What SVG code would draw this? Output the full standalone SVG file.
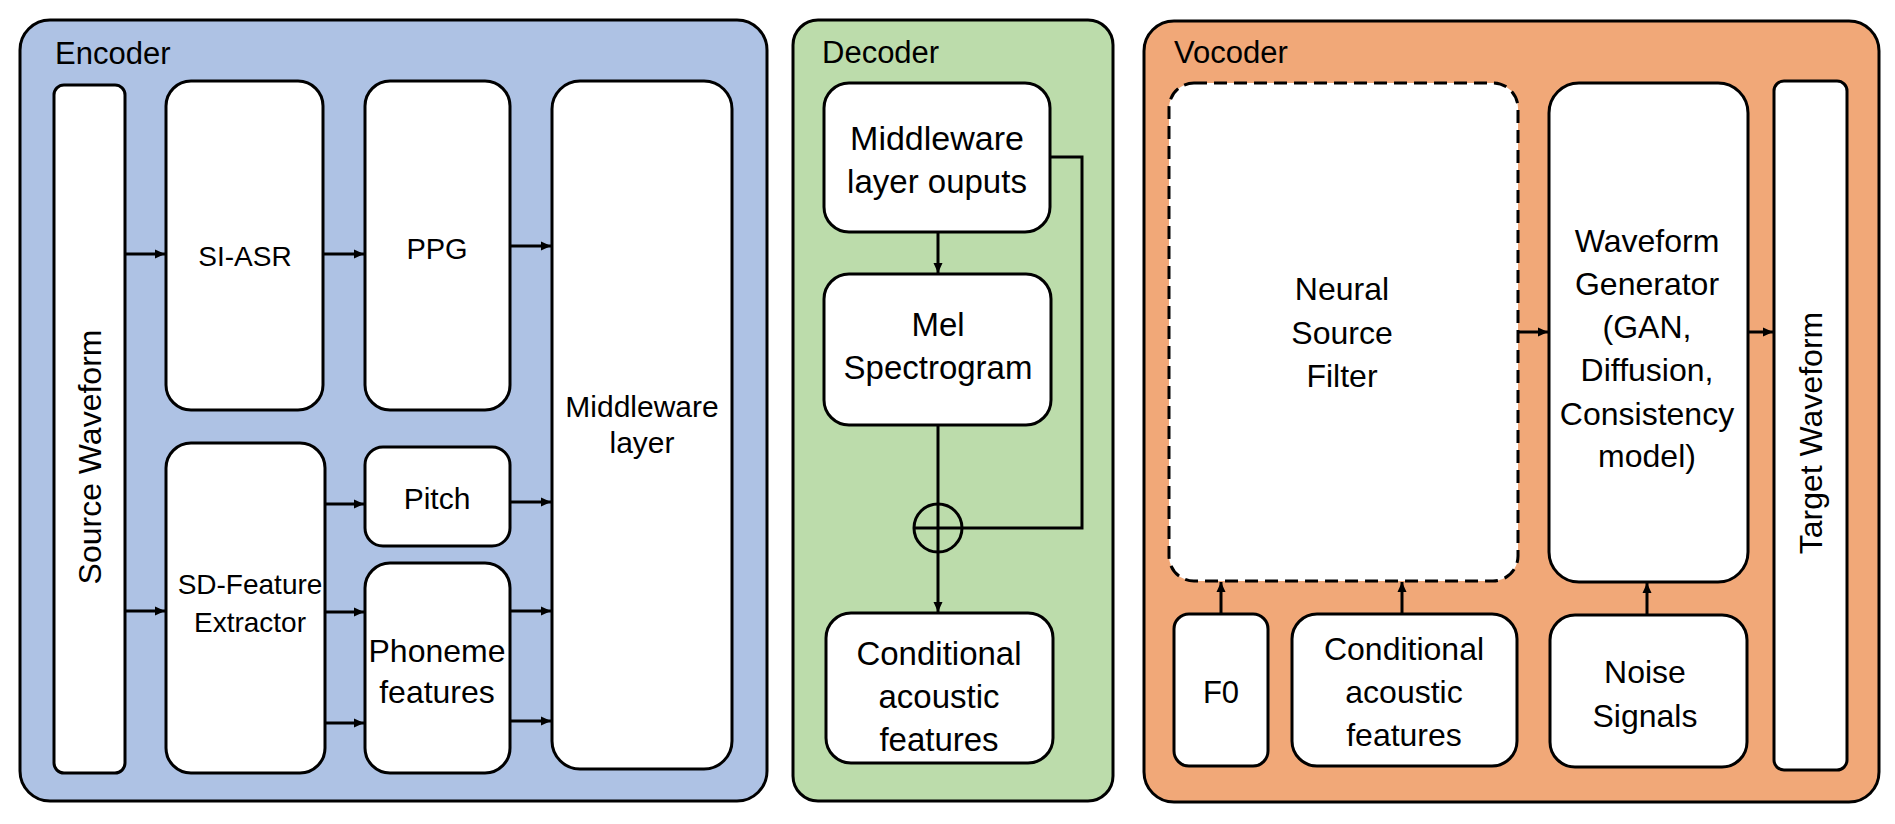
<svg xmlns="http://www.w3.org/2000/svg" width="1895" height="824" viewBox="0 0 1895 824">
<defs>
<style>
text{font-family:"Liberation Sans",Arial,sans-serif;fill:#000;text-anchor:middle}
.lbl{text-anchor:start;font-size:31px}
.box{fill:#fff;stroke:#000;stroke-width:3}
.dash{stroke-dasharray:13 7}
.enc{fill:#aec2e4;stroke:#000;stroke-width:3}
.dec{fill:#bcdcab;stroke:#000;stroke-width:3}
.voc{fill:#f1a878;stroke:#000;stroke-width:3}
.c{fill:none;stroke:#000;stroke-width:3}
.a{marker-end:url(#ah)}
</style>
<marker id="ah" viewBox="0 0 10 10" refX="10" refY="5" markerWidth="10" markerHeight="10" orient="auto" markerUnits="userSpaceOnUse"><path d="M0,0.5 L10,5 L0,9.5 z" fill="#000"/></marker>
</defs>

<g id="encoder">
<rect class="enc" x="20" y="20" width="747" height="781" rx="30"/>
<text class="lbl" x="55" y="64">Encoder</text>
</g>
<g id="decoder">
<rect class="dec" x="793" y="20" width="320" height="781" rx="25"/>
<text class="lbl" x="822" y="63">Decoder</text>
</g>
<g id="vocoder">
<rect class="voc" x="1144" y="21" width="735" height="781" rx="30"/>
<text class="lbl" x="1174" y="63">Vocoder</text>
</g>

<g id="source-waveform">
<rect class="box" x="54" y="85" width="71" height="688" rx="10"/>
<text transform="translate(101,457) rotate(-90)" font-size="32">Source Waveform</text>
</g>
<g id="si-asr">
<rect class="box" x="166" y="81" width="157" height="329" rx="25"/>
<text x="245" y="266" font-size="28">SI-ASR</text>
</g>
<g id="ppg">
<rect class="box" x="365" y="81" width="145" height="329" rx="25"/>
<text x="437" y="259" font-size="29">PPG</text>
</g>
<g id="middleware-layer">
<rect class="box" x="552" y="81" width="180" height="688" rx="28"/>
<text x="642" y="417" font-size="30">Middleware</text>
<text x="642" y="453" font-size="30">layer</text>
</g>
<g id="sd-feature-extractor">
<rect class="box" x="166" y="443" width="159" height="330" rx="25"/>
<text x="250" y="594" font-size="28">SD-Feature</text>
<text x="250" y="632" font-size="28">Extractor</text>
</g>
<g id="pitch">
<rect class="box" x="365" y="447" width="145" height="99" rx="18"/>
<text x="437" y="509" font-size="30">Pitch</text>
</g>
<g id="phoneme-features">
<rect class="box" x="365" y="563" width="145" height="210" rx="25"/>
<text x="437" y="662" font-size="32">Phoneme</text>
<text x="437" y="703" font-size="32">features</text>
</g>

<g id="middleware-outputs">
<rect class="box" x="824" y="83" width="226" height="149" rx="25"/>
<text x="937" y="150" font-size="34">Middleware</text>
<text x="937" y="193" font-size="33">layer ouputs</text>
</g>
<g id="mel-spectrogram">
<rect class="box" x="824" y="274" width="227" height="151" rx="25"/>
<text x="938" y="336" font-size="33">Mel</text>
<text x="938" y="379" font-size="33">Spectrogram</text>
</g>
<g id="sum">
<circle class="c" cx="938" cy="528" r="24"/>
<path class="c" d="M914,528 H962"/>
</g>
<g id="dec-conditional">
<rect class="box" x="826" y="613" width="227" height="150" rx="25"/>
<text x="939" y="665" font-size="33">Conditional</text>
<text x="939" y="708" font-size="33">acoustic</text>
<text x="939" y="751" font-size="33">features</text>
</g>

<g id="neural-source-filter">
<rect class="box dash" x="1169" y="83" width="349" height="498" rx="25"/>
<text x="1342" y="300" font-size="32">Neural</text>
<text x="1342" y="344" font-size="32">Source</text>
<text x="1342" y="387" font-size="32">Filter</text>
</g>
<g id="waveform-generator">
<rect class="box" x="1549" y="83" width="199" height="499" rx="30"/>
<text x="1647" y="252" font-size="32">Waveform</text>
<text x="1647" y="295" font-size="32">Generator</text>
<text x="1647" y="338" font-size="32">(GAN,</text>
<text x="1647" y="381" font-size="32">Diffusion,</text>
<text x="1647" y="425" font-size="32">Consistency</text>
<text x="1647" y="467" font-size="32">model)</text>
</g>
<g id="target-waveform">
<rect class="box" x="1774" y="81" width="73" height="689" rx="10"/>
<text transform="translate(1822,433) rotate(-90)" font-size="32">Target Waveform</text>
</g>
<g id="f0">
<rect class="box" x="1174" y="614" width="94" height="152" rx="15"/>
<text x="1221" y="703" font-size="31">F0</text>
</g>
<g id="voc-conditional">
<rect class="box" x="1292" y="614" width="225" height="152" rx="25"/>
<text x="1404" y="660" font-size="32">Conditional</text>
<text x="1404" y="703" font-size="32">acoustic</text>
<text x="1404" y="746" font-size="32">features</text>
</g>
<g id="noise-signals">
<rect class="box" x="1550" y="615" width="197" height="152" rx="25"/>
<text x="1645" y="683" font-size="32">Noise</text>
<text x="1645" y="727" font-size="32">Signals</text>
</g>

<g id="connectors">
<path class="c a" d="M125,254 H165"/>
<path class="c a" d="M323,254 H364"/>
<path class="c a" d="M510,246 H551"/>
<path class="c a" d="M125,611 H165"/>
<path class="c a" d="M325,504 H364"/>
<path class="c a" d="M325,612 H364"/>
<path class="c a" d="M325,723 H364"/>
<path class="c a" d="M510,502 H551"/>
<path class="c a" d="M510,611 H551"/>
<path class="c a" d="M510,721 H551"/>
<path class="c a" d="M938,232 V273"/>
<path class="c a" d="M938,425 V612"/>
<path class="c" d="M1050,157 H1082 V528 H962"/>
<path class="c a" d="M1518,332 H1548"/>
<path class="c a" d="M1748,332 H1773"/>
<path class="c a" d="M1221,614 V582"/>
<path class="c a" d="M1402,614 V582"/>
<path class="c a" d="M1647,615 V583"/>
</g>
</svg>
